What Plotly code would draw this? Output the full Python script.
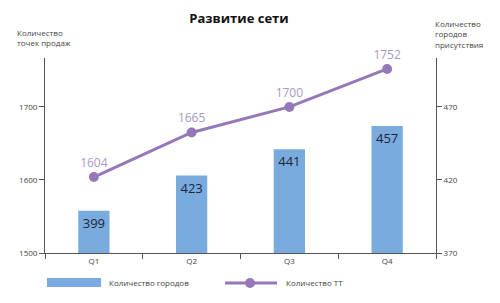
import plotly.graph_objects as go

quarters = ["Q1", "Q2", "Q3", "Q4"]
cities = [399, 423, 441, 457]
points = [1604, 1665, 1700, 1752]
left_ticks = [1500, 1600, 1700]
right_ticks = [370, 420, 470]

FONT = "Open Sans"
AX = "#555555"

fig = go.Figure()
fig.add_trace(go.Bar(
    x=quarters, y=cities, yaxis="y2", name="Количество городов",
    marker=dict(color="#7aabdf", line=dict(width=0)), width=0.32,
    text=[str(v) for v in cities], textposition="inside", insidetextanchor="end",
    textfont=dict(family=FONT, size=13, color="#1c2638"), showlegend=False,
))
fig.add_trace(go.Scatter(
    x=quarters, y=points, yaxis="y", name="Количество ТТ",
    mode="lines+markers+text", line=dict(color="#9678b8", width=3),
    marker=dict(color="#9678b8", size=10),
    text=[str(v) for v in points], textposition="top center",
    textfont=dict(family=FONT, size=12, color="#a898c4"), showlegend=False,
    cliponaxis=False,
))

fig.update_layout(
    width=500, height=303, autosize=False,
    margin=dict(l=45, r=64, t=58, b=50),
    paper_bgcolor="white", plot_bgcolor="white",
    font=dict(family=FONT, color="#333333", size=8),
    title=dict(text="<b>Развитие сети</b>", x=0.478, xanchor="center", y=0.94, yanchor="middle",
               font=dict(family=FONT, size=13, color="#111111")),
    xaxis=dict(type="category", showline=True, linecolor=AX, linewidth=1,
               ticks="outside", ticklen=5, tickcolor=AX, tickson="boundaries",
               showgrid=False, tickfont=dict(size=8, color="#444444"), range=[-0.5, 3.5]),
    yaxis=dict(range=[1500, 1767], tickvals=left_ticks, showline=True, linecolor=AX,
               ticks="outside", ticklen=5, tickcolor=AX, showgrid=False, zeroline=False,
               tickfont=dict(size=8, color="#444444")),
    yaxis2=dict(range=[370, 503.5], tickvals=right_ticks, overlaying="y", side="right",
                showline=True, linecolor=AX, ticks="outside", ticklen=5, tickcolor=AX,
                showgrid=False, zeroline=False, tickfont=dict(size=8, color="#444444")),
    showlegend=False,
)

def px(x, y):
    return (x - 45) / 391, 1 - (y - 58) / 195

ann = [
    dict(text="Количество<br>точек продаж", x=15, y=38, align="left"),
    dict(text="Количество<br>городов<br>присутствия", x=433, y=34, align="left"),
    dict(text="Количество городов", x=107, y=282, align="left"),
    dict(text="Количество ТТ", x=284, y=282, align="left"),
]
for a in ann:
    ax_, ay_ = px(a["x"], a["y"])
    fig.add_annotation(xref="paper", yref="paper", x=ax_, y=ay_,
                       text=a["text"], xanchor="left", yanchor="middle",
                       align=a["align"], showarrow=False,
                       font=dict(family=FONT, size=8, color="#444444"))

x0, y0 = px(47, 278); x1, y1 = px(101, 287)
fig.add_shape(type="rect", xref="paper", yref="paper", x0=x0, y0=y0, x1=x1, y1=y1,
              fillcolor="#7aabdf", line=dict(width=0))
x0, y0 = px(225, 283); x1, _ = px(277, 283)
fig.add_shape(type="line", xref="paper", yref="paper", x0=x0, y0=y0, x1=x1, y1=y0,
              line=dict(color="#9678b8", width=3))
cx, cy = px(250, 283)
r = 5 / 391; ry = 5 / 195
fig.add_shape(type="circle", xref="paper", yref="paper", x0=cx - r, x1=cx + r, y0=cy - ry, y1=cy + ry,
              fillcolor="#9678b8", line=dict(width=0))

fig.write_html("out.html")
